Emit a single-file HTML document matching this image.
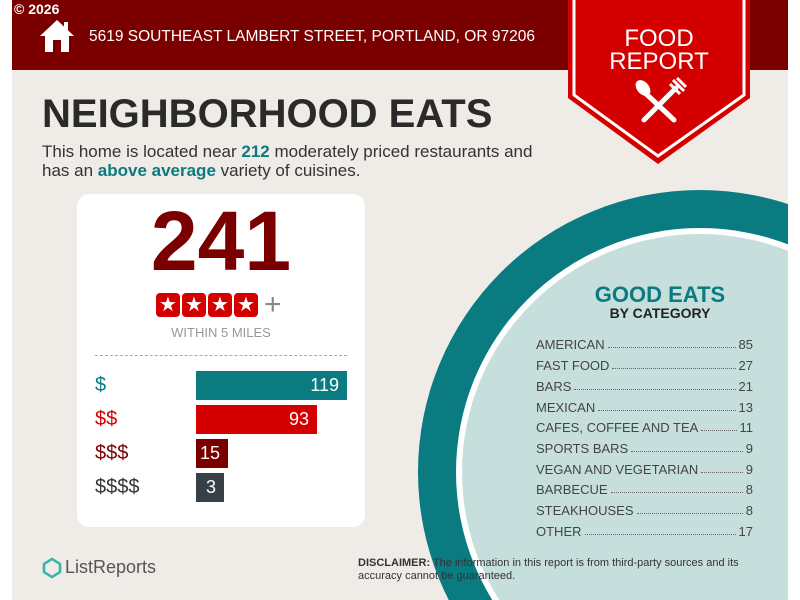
<!DOCTYPE html>
<html><head><meta charset="utf-8"><style>
*{margin:0;padding:0;box-sizing:border-box}
html,body{width:800px;height:600px;overflow:hidden}
body{background:#fff;position:relative;font-family:"Liberation Sans",sans-serif}
.abs{position:absolute}
#bg{left:12px;top:0;width:776px;height:600px;background:#efebe7;overflow:hidden}
#hdr{left:12px;top:0;width:776px;height:70px;background:#7a0000}
.row{position:absolute;left:536px;width:217px;font-size:13px;color:#444;display:flex;white-space:nowrap}
.row .d{flex:1;border-bottom:1px dotted #666;margin:0 3px 4px}
.bar{position:absolute;left:196px;color:#fff;font-size:18px;text-align:right;padding-right:8px;line-height:29px}
.lab{position:absolute;left:95px;font-size:20px;line-height:29px}
</style></head><body>
<div id="bg" class="abs">
<svg class="abs" style="left:0;top:0" width="776" height="600">
<circle cx="688" cy="472" r="282" fill="#0a7b80"/>
<circle cx="688" cy="472" r="244" fill="#fff"/>
<circle cx="688" cy="472" r="238" fill="#c6dfdd"/>
</svg>
</div>
<div id="hdr" class="abs"></div>
<div class="abs" style="left:14px;top:1px;color:#fff;font-weight:bold;font-size:14px">© 2026</div>
<svg class="abs" style="left:38px;top:18px" width="38" height="36"><polygon points="19,2 36,18 31,18 31,34 7,34 7,18 2,18" fill="#fff"/><rect x="15" y="22" width="8" height="12" fill="#7a0000"/><rect x="26" y="4" width="4" height="9" fill="#fff"/></svg>
<div class="abs" style="left:89px;top:28px;color:#fff;font-size:15.5px;white-space:nowrap">5619 SOUTHEAST LAMBERT STREET, PORTLAND, OR 97206</div>
<svg class="abs" style="left:566px;top:0" width="186" height="166">
<polygon points="2,0 184,0 184,98 92,164 2,98" fill="#d40000"/>
<polyline points="8,0 8,95 92,156 178,95 178,0" fill="none" stroke="#fff" stroke-width="3"/>
<text x="93" y="46" fill="#fff" font-size="24" text-anchor="middle" font-family="Liberation Sans">FOOD</text>
<text x="93" y="69" fill="#fff" font-size="24" text-anchor="middle" font-family="Liberation Sans">REPORT</text>
<line x1="76" y1="90" x2="108" y2="120" stroke="#fff" stroke-width="5" stroke-linecap="round"/>
<ellipse cx="77" cy="88" rx="6" ry="9" fill="#fff" transform="rotate(-40 77 88)"/>
<line x1="110" y1="88" x2="78" y2="120" stroke="#fff" stroke-width="5" stroke-linecap="round"/>
<path d="M104,84 L114,94 M107,80 L118,91 M111,78 L120,87" stroke="#fff" stroke-width="3"/>
</svg>
<div class="abs" style="left:42px;top:92px;font-size:40px;font-weight:bold;color:#2a2a2a;white-space:nowrap">NEIGHBORHOOD EATS</div>
<div class="abs" style="left:42px;top:142px;font-size:17px;color:#333;line-height:19px;white-space:nowrap">This home is located near <b style="color:#0a7b80">212</b> moderately priced restaurants and<br>has an <b style="color:#0a7b80">above average</b> variety of cuisines.</div>
<div class="abs" style="left:77px;top:194px;width:288px;height:333px;background:#fff;border-radius:12px"></div>
<div class="abs" style="left:77px;top:196px;width:288px;text-align:center;font-size:84px;font-weight:bold;color:#7a0000;line-height:90px">241</div>
<div class="abs" style="left:156px;top:293px;display:flex;gap:2px">
<span style="width:24px;height:24px;background:#d40000;border-radius:4px;color:#fff;font-size:20px;text-align:center;line-height:24px">★</span><span style="width:24px;height:24px;background:#d40000;border-radius:4px;color:#fff;font-size:20px;text-align:center;line-height:24px">★</span><span style="width:24px;height:24px;background:#d40000;border-radius:4px;color:#fff;font-size:20px;text-align:center;line-height:24px">★</span><span style="width:24px;height:24px;background:#d40000;border-radius:4px;color:#fff;font-size:20px;text-align:center;line-height:24px">★</span><span style="color:#888;font-size:30px;line-height:24px;margin-left:4px">+</span></div>
<div class="abs" style="left:77px;top:325px;width:288px;text-align:center;font-size:13px;color:#999">WITHIN 5 MILES</div>
<div class="abs" style="left:95px;top:355px;width:252px;border-top:1px dashed #aaa"></div>
<div class="lab" style="top:371px;color:#0a7b80">$</div>
<div class="lab" style="top:405px;color:#d40000">$$</div>
<div class="lab" style="top:439px;color:#7a0000">$$$</div>
<div class="lab" style="top:473px;color:#333">$$$$</div>
<div class="bar" style="top:371px;width:151px;background:#0a7b80">119</div>
<div class="bar" style="top:405px;width:121px;background:#d40000">93</div>
<div class="bar" style="top:439px;width:32px;background:#7a0000">15</div>
<div class="bar" style="top:473px;width:28px;background:#374145">3</div>
<div class="abs" style="left:560px;top:282px;width:200px;text-align:center;font-size:22px;font-weight:bold;color:#0a7b80">GOOD EATS</div>
<div class="abs" style="left:560px;top:305px;width:200px;text-align:center;font-size:14px;font-weight:bold;color:#222">BY CATEGORY</div>
<div class="row" style="top:337px">AMERICAN<span class="d"></span>85</div>
<div class="row" style="top:358px">FAST FOOD<span class="d"></span>27</div>
<div class="row" style="top:379px">BARS<span class="d"></span>21</div>
<div class="row" style="top:400px">MEXICAN<span class="d"></span>13</div>
<div class="row" style="top:420px">CAFES, COFFEE AND TEA<span class="d"></span>11</div>
<div class="row" style="top:441px">SPORTS BARS<span class="d"></span>9</div>
<div class="row" style="top:462px">VEGAN AND VEGETARIAN<span class="d"></span>9</div>
<div class="row" style="top:482px">BARBECUE<span class="d"></span>8</div>
<div class="row" style="top:503px">STEAKHOUSES<span class="d"></span>8</div>
<div class="row" style="top:524px">OTHER<span class="d"></span>17</div>
<svg class="abs" style="left:42px;top:557px" width="20" height="22"><path d="M10,2 L18,7 L18,15 L10,20 L2,15 L2,7 Z" fill="none" stroke="#35b5a8" stroke-width="2.5"/></svg>
<div class="abs" style="left:65px;top:557px;font-size:18px;color:#555">ListReports</div>
<div class="abs" style="left:358px;top:557px;width:400px;font-size:11px;color:#333;line-height:13px"><b>DISCLAIMER:</b> The information in this report is from third-party sources and its accuracy cannot be guaranteed.</div>
</body></html>
